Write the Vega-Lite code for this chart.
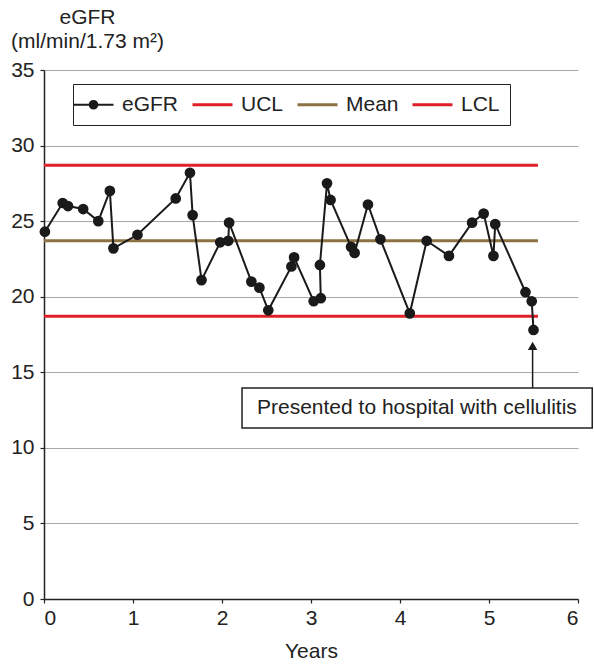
{
  "$schema": "https://vega.github.io/schema/vega-lite/v6.json",
  "width": 534,
  "height": 529,
  "autosize": {"type": "none"},
  "padding": {"left": 44, "top": 70, "right": 16, "bottom": 67},
  "background": "white",
  "config": {
    "font": "Liberation Sans",
    "view": {"stroke": null},
    "axis": {
      "labelFont": "Liberation Sans",
      "titleFont": "Liberation Sans",
      "labelFontSize": 21,
      "titleFontSize": 21,
      "labelColor": "#222222",
      "titleColor": "#222222",
      "titleFontWeight": "normal",
      "domainColor": "#222222",
      "domainWidth": 1.5,
      "tickColor": "#222222",
      "tickWidth": 1.2,
      "tickSize": 4
    },
    "legend": {
      "labelFont": "Liberation Sans",
      "labelFontSize": 21,
      "labelColor": "#222222",
      "orient": "none",
      "legendX": 29,
      "legendY": 14,
      "direction": "horizontal",
      "fillColor": "white",
      "strokeColor": "#222222",
      "padding": 10,
      "symbolSize": 1600,
      "symbolStrokeWidth": 3,
      "symbolType": "stroke",
      "labelOffset": 18,
      "columnPadding": 7
    }
  },
  "datasets": {
    "egfr": [
      {"i": 1, "years": 0.01, "egfr": 24.3},
      {"i": 2, "years": 0.21, "egfr": 26.2},
      {"i": 3, "years": 0.27, "egfr": 26.0},
      {"i": 4, "years": 0.44, "egfr": 25.8},
      {"i": 5, "years": 0.61, "egfr": 25.0},
      {"i": 6, "years": 0.74, "egfr": 27.0},
      {"i": 7, "years": 0.78, "egfr": 23.2},
      {"i": 8, "years": 1.05, "egfr": 24.1},
      {"i": 9, "years": 1.48, "egfr": 26.5},
      {"i": 10, "years": 1.64, "egfr": 28.2},
      {"i": 11, "years": 1.67, "egfr": 25.4},
      {"i": 12, "years": 1.77, "egfr": 21.1},
      {"i": 13, "years": 1.98, "egfr": 23.6},
      {"i": 14, "years": 2.07, "egfr": 23.7},
      {"i": 15, "years": 2.08, "egfr": 24.9},
      {"i": 16, "years": 2.33, "egfr": 21.0},
      {"i": 17, "years": 2.42, "egfr": 20.6},
      {"i": 18, "years": 2.52, "egfr": 19.1},
      {"i": 19, "years": 2.78, "egfr": 22.0},
      {"i": 20, "years": 2.81, "egfr": 22.6},
      {"i": 21, "years": 3.03, "egfr": 19.7},
      {"i": 22, "years": 3.11, "egfr": 19.9},
      {"i": 23, "years": 3.1, "egfr": 22.1},
      {"i": 24, "years": 3.18, "egfr": 27.5},
      {"i": 25, "years": 3.22, "egfr": 26.4},
      {"i": 26, "years": 3.45, "egfr": 23.3},
      {"i": 27, "years": 3.49, "egfr": 22.9},
      {"i": 28, "years": 3.64, "egfr": 26.1},
      {"i": 29, "years": 3.78, "egfr": 23.8},
      {"i": 30, "years": 4.11, "egfr": 18.9},
      {"i": 31, "years": 4.3, "egfr": 23.7},
      {"i": 32, "years": 4.55, "egfr": 22.7},
      {"i": 33, "years": 4.81, "egfr": 24.9},
      {"i": 34, "years": 4.94, "egfr": 25.5},
      {"i": 35, "years": 5.05, "egfr": 22.7},
      {"i": 36, "years": 5.07, "egfr": 24.8},
      {"i": 37, "years": 5.41, "egfr": 20.3},
      {"i": 38, "years": 5.48, "egfr": 19.7},
      {"i": 39, "years": 5.5, "egfr": 17.8}
    ],
    "limits": [
      {"series": "UCL", "value": 28.7},
      {"series": "Mean", "value": 23.7},
      {"series": "LCL", "value": 18.7}
    ],
    "notes": [
      {"note": "Presented to hospital with cellulitis"}
    ]
  },
  "encoding": {
    "x": {
      "type": "quantitative",
      "scale": {"domain": [0, 6], "nice": false, "zero": false},
      "axis": {
        "title": "Years",
        "values": [0, 1, 2, 3, 4, 5, 6],
        "format": "d",
        "grid": false,
        "labelPadding": 4,
        "titlePadding": 12
      }
    },
    "y": {
      "type": "quantitative",
      "scale": {"domain": [0, 35], "nice": false},
      "axis": {
        "title": ["eGFR", "(ml/min/1.73 m²)"],
        "titleAngle": 0,
        "titleAlign": "center",
        "titleBaseline": "alphabetic",
        "titleX": 43,
        "titleY": -47,
        "titleLineHeight": 24,
        "values": [0, 5, 10, 15, 20, 25, 30, 35],
        "grid": true,
        "gridColor": "#a8a8a8",
        "gridWidth": 1.2,
        "labelPadding": 6
      }
    },
    "color": {
      "type": "nominal",
      "scale": {
        "domain": ["eGFR", "UCL", "Mean", "LCL"],
        "range": ["#1a1a1a", "#e01f26", "#8d7242", "#e01f26"]
      },
      "legend": {
        "title": null,
        "encode": {
          "symbols": {
            "update": {
              "shape": {"signal": "datum.value === 'eGFR' ? 'M-1,0H1M0.19,0A0.19,0.19 0 1 1 -0.19,0A0.19,0.19 0 1 1 0.19,0Z' : 'stroke'"},
              "fill": {"signal": "datum.value === 'eGFR' ? '#1a1a1a' : 'transparent'"},
              "strokeWidth": {"signal": "datum.value === 'eGFR' ? 2 : 3"},
              "opacity": {"value": 1}
            }
          }
        }
      }
    }
  },
  "layer": [
    {
      "data": {"name": "limits"},
      "mark": {"type": "rule", "strokeWidth": 3},
      "encoding": {
        "x": {"datum": 0},
        "x2": {"datum": 5.55},
        "y": {"field": "value"},
        "color": {"field": "series"}
      }
    },
    {
      "data": {"name": "egfr"},
      "mark": {
        "type": "line",
        "strokeWidth": 2,
        "point": {"filled": true, "size": 115, "color": "#1a1a1a", "opacity": 1}
      },
      "encoding": {
        "x": {"field": "years"},
        "y": {"field": "egfr"},
        "order": {"field": "i", "type": "quantitative"},
        "color": {"datum": "eGFR"}
      }
    },
    {
      "data": {"name": "notes"},
      "mark": {"type": "rule", "strokeWidth": 1.5, "color": "#1a1a1a"},
      "encoding": {
        "x": {"datum": 5.49},
        "y": {"datum": 13.96},
        "y2": {"datum": 16.6}
      }
    },
    {
      "data": {"name": "notes"},
      "mark": {"type": "point", "shape": "triangle-up", "filled": true, "size": 90, "color": "#1a1a1a", "opacity": 1},
      "encoding": {
        "x": {"datum": 5.49},
        "y": {"datum": 16.75}
      }
    },
    {
      "data": {"name": "notes"},
      "mark": {"type": "rect", "fill": "white", "stroke": "#222222", "strokeWidth": 1.5},
      "encoding": {
        "x": {"datum": 2.225},
        "x2": {"datum": 6.16},
        "y": {"datum": 13.96},
        "y2": {"datum": 11.31}
      }
    },
    {
      "data": {"name": "notes"},
      "mark": {"type": "text", "fontSize": 21, "font": "Liberation Sans", "color": "#222222", "align": "center", "baseline": "middle"},
      "encoding": {
        "x": {"datum": 4.19},
        "y": {"datum": 12.63},
        "text": {"field": "note"}
      }
    }
  ]
}
